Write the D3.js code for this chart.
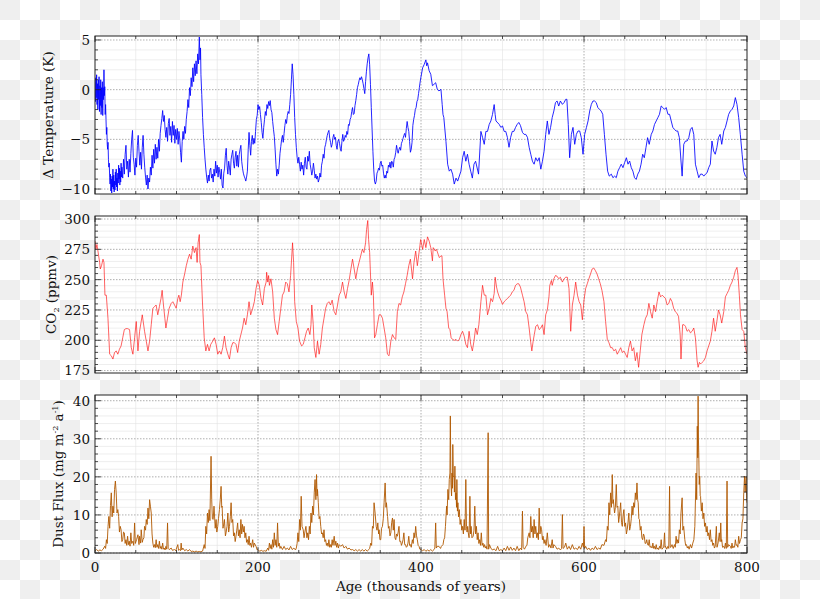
<!DOCTYPE html>
<html>
<head>
<meta charset="utf-8">
<script src="https://d3js.org/d3.v7.min.js"></script>
<style>
  body { margin: 0; }
  text { font-family: "DejaVu Serif", serif; fill: #111; }
</style>
</head>
<body>
<script>
// ---- data: [age (kyr), value] ----
var tempData = [
[0,0.8],[0.5,-1.2],[1,1.2],[1.5,-0.8],[2,1.5],[2.5,-1.5],[3,0.6],[3.5,-2.0],[4,1.0],[4.5,-1.0],[5,1.3],[5.5,-2.2],[6,0.4],[6.5,-1.6],[7,1.0],[7.5,-2.5],[8,0.2],[8.5,-1.8],[9,0.8],[9.5,-2.6],[10,0.2],[10.5,-1.0],[11,2.0],[11.5,-0.6],[12,0.3],[12.5,-2.5],[13,-1.5],[13.5,-3.0],[14,-4.5],[14.5,-3.8],[15,-5.5],[15.5,-6.0],[16,-5.3],[16.5,-7.0],[17,-7.8],[17.5,-7.4],[18,-8.8],
[18.5,-9.5],[19,-8.5],[19.5,-10.2],[20,-9.0],[20.5,-10.4],[21,-8.7],[21.5,-9.8],[22,-8.0],[22.5,-10.0],[23,-8.6],[23.5,-10.3],[24,-9.2],[24.5,-10.1],[25,-8.3],[25.5,-9.6],[26,-8.0],[26.5,-9.8],[27,-8.9],[27.5,-10.2],[28,-8.4],[28.5,-9.4],[29,-7.6],[29.5,-9.0],[30,-7.9],[30.5,-9.6],[31,-8.2],[31.5,-9.3],[32,-7.4],[32.5,-8.8],[33,-7.8],
[34,-8.9],[35,-7.0],[36,-8.5],[37,-6.5],[38,-5.6],[39,-8.0],[40,-7.2],[41,-8.8],[42,-7.0],[43,-8.3],[44,-6.4],[45,-5.0],[46,-4.1],[47,-6.8],[48,-7.5],[49,-8.6],[50,-6.9],[51,-7.8],[52,-5.6],[53,-4.6],[54,-6.2],[55,-7.6],[56,-6.3],[57,-8.0],[58,-5.8],[59,-4.6],[60,-6.5],[61,-7.8],[62,-8.8],[63,-9.6],[64,-8.6],[65,-10.0],[66,-8.9],[67,-9.3],
[68,-7.8],[69,-8.6],[70,-6.6],[71,-7.9],[72,-6.0],[73,-7.4],[74,-5.5],[75,-7.0],[76,-5.8],[77,-6.9],[78,-5.0],[79,-6.2],[80,-4.4],[81,-3.6],[82,-2.9],[83,-2.1],[84,-3.2],[85,-2.6],[86,-4.0],
[87,-4.8],[88,-3.8],[89,-5.2],[90,-3.4],[91,-2.9],[92,-4.6],[93,-3.7],[94,-5.3],[95,-3.2],[96,-4.6],[97,-3.6],[98,-5.4],[99,-4.0],[100,-5.0],[101,-3.9],[102,-5.5],[103,-4.2],[104,-5.0],[105,-6.3],[106,-7.3],[107,-5.2],[108,-4.2],[109,-5.0],[110,-3.7],[111,-4.4],[112,-3.0],
[113,-2.2],[114,-1.0],[115,-1.8],[116,0.2],[117,-0.6],[118,1.2],[119,0.3],[120,2.2],[121,0.8],[122,2.6],[123,1.4],[124,2.9],[125,1.6],[126,3.6],[127,2.6],[128,5.3],[128.8,3.0],[129.5,4.2],[130,1.5],[131,-0.5],[132,-2.8],[133,-4.5],[134,-5.8],[135,-7.0],[136,-8.0],
[137,-8.8],[138,-9.4],[139,-8.6],[140,-9.2],[141,-8.1],[142,-7.9],[143,-8.9],[144,-8.5],[145,-9.3],[146,-8.0],[147,-8.7],[148,-7.2],[149,-8.4],[150,-7.6],[151,-8.8],[152,-7.8],[153,-8.3],[154,-9.0],[155,-8.0],[156,-9.6],[157,-9.9],[158,-8.4],[159,-7.9],[160,-6.6],[161,-5.9],[162,-7.6],[163,-8.5],[164,-7.2],[165,-7.8],[166,-8.6],[167,-7.0],[168,-6.5],[169,-6.1],[170,-7.4],[171,-7.9],[172,-6.8],[173,-6.2],[174,-7.7],[175,-6.6],[176,-7.8],[177,-6.5],[178,-6.0],[179,-5.6],[180,-7.2],[181,-7.9],[182,-8.4],[183,-8.7],[184,-8.9],[185,-9.2],[186,-8.8],[187,-8.2],[188,-6.0],[189,-4.3],[190,-5.6],[191,-6.6],[192,-5.2],[193,-4.6],[194,-5.5],[195,-4.9],[196,-5.4],[197,-4.2],[198,-3.0],[199,-2.6],[200,-1.5],
[201,-2.0],[202,-1.7],[203,-2.5],[204,-3.3],[205,-4.3],[206,-4.9],[207,-3.8],[208,-3.0],[209,-2.2],[210,-2.6],[211,-1.5],[212,-1.9],[213,-1.2],[214,-1.6],[215,-1.1],[216,-2.0],[217,-2.3],[218,-3.2],[219,-4.0],[220,-4.7],[221,-6.0],[222,-7.5],[223,-8.7],[224,-8.0],[225,-8.5],[226,-7.6],[227,-6.4],[228,-5.7],[229,-5.0],[230,-4.6],[231,-5.3],[232,-4.4],[233,-3.6],[234,-3.0],[235,-3.4],[236,-2.6],[237,-2.2],[238,-2.4],[239,-1.5],[240,-0.5],[241,1.0],[242,2.6],[243,1.5],[244,-0.5],[245,-2.8],[246,-4.5],[247,-5.8],
[248,-6.8],[249,-7.4],[250,-6.8],[251,-7.5],[252,-8.2],[253,-7.3],[254,-8.0],[255,-7.6],[256,-8.6],[257,-7.4],[258,-6.8],[259,-7.8],[260,-8.0],[261,-6.7],[262,-7.2],[263,-6.2],[264,-7.5],[265,-8.0],[266,-8.6],[267,-8.2],[268,-7.4],[269,-8.1],[270,-8.9],[271,-8.5],[272,-9.0],[273,-8.7],[274,-9.3],[275,-9.0],[276,-8.4],[277,-8.8],[278,-7.6],[279,-7.2],[280,-6.5],[281,-6.9],[282,-5.8],[283,-5.5],[284,-5.0],[285,-4.6],[286,-4.3],[287,-4.1],[288,-4.9],[289,-5.3],[290,-5.8],[291,-5.5],[292,-4.8],[293,-4.5],[294,-5.0],[295,-4.8],[296,-5.6],[297,-6.0],[298,-5.2],[299,-5.0],[300,-5.4],
[301,-5.9],[302,-6.2],[303,-5.2],[304,-4.5],[305,-5.2],[306,-5.0],[307,-4.6],[308,-4.8],[309,-4.2],[310,-4.5],[311,-3.5],[312,-3.6],[313,-3.0],[314,-2.8],[315,-2.2],[316,-1.8],[317,-2.5],[318,-2.4],[319,-1.6],[320,-1.1],[321,-0.5],[322,0.2],[323,0.5],[324,0.9],[325,1.2],[326,1.0],[327,1.3],[328,1.0],[329,0.6],[330,0.1],[331,-0.4],[332,0.8],[333,1.8],[334,2.6],[335,3.2],[336,3.6],[337,2.5],[338,0.5],[339,-1.8],[340,-4.0],[341,-6.2],[342,-8.0],[343,-9.2],[344,-9.5],
[345,-9.2],[346,-8.4],[347,-8.2],[348,-7.9],[349,-8.1],[350,-7.4],[351,-7.2],[352,-7.7],[353,-7.6],[354,-8.4],[355,-8.9],[356,-8.6],[357,-8.9],[358,-8.2],[359,-8.4],[360,-7.6],[361,-7.8],[362,-7.3],[363,-7.9],[364,-7.2],[365,-7.3],[366,-7.8],[367,-7.0],[368,-6.8],[369,-6.3],[370,-5.6],[371,-6.1],[372,-6.4],[373,-6.0],[374,-5.8],[375,-6.1],[376,-5.4],[377,-5.2],[378,-4.9],[379,-4.6],[380,-4.4],[381,-4.8],[382,-3.9],[383,-3.2],[384,-3.8],[385,-4.2],[386,-5.2],[387,-6.3],[388,-6.0],[389,-5.3],[390,-3.6],[391,-3.0],[392,-2.6],[393,-2.0],[394,-1.8],[395,-1.2],[396,-1.0],[397,-0.4],[398,0.2],[399,0.8],[400,1.3],
[402,2.2],[404,2.55],[406,3.0],[407,2.4],[408,2.7],[410,1.9],[412,1.55],[414,0.4],[416,0.54],[418,0.7],[420,0.03],[422,-0.13],[424.5,0.03],[426,-1.5],[427,-2.5],[428,-2.8],[430.6,-5.2],[432.7,-7.5],[434.7,-8.2],[436.7,-8.0],[438.8,-8.5],[440.8,-9.5],[443,-8.9],[445,-9.2],[449,-8.2],[451,-6.85],[453,-6.2],[455,-7.2],[457,-6.5],[459,-7.5],[461,-8.2],[463,-8.9],[465,-7.5],[467,-7.2],[470.6,-8.5],[473.5,-4.2],[475.5,-4.8],[477.6,-5.5],[479.6,-4.2],[481.6,-4.2],[483.7,-3.5],[485.7,-3.15],[487.7,-2.5],[489.8,-1.5],[491,-2.5],[492,-3.15],[496,-3.5],[498,-3.8],[500,-3.65],[502,-4.2],[504,-4.2],[506,-4.8],[508,-5.8],[510,-4.8],[512,-4.2],[514,-4.2],[516,-3.8],[518,-3.5],[520,-3.3],[522,-3.6],[524.5,-4.3],[526.5,-4.5],[528.6,-4.5],[530.6,-4.8],[532.7,-5.8],[534.7,-6.5],[536.7,-7.2],[538.8,-7.5],[540.8,-6.85],[543,-7.2],[545,-6.85],[547,-8.0],[549,-7.2],[551,-6.2],[553,-4.5],[555,-3.15],[557,-4.5],[559,-3.8],[561,-2.8],[563,-2.15],[565,-1.3],[567,-1.14],[569,-1.65],[571,-1.14],[573.5,-1.48],[575.5,-1.3],[577.6,-0.97],[579,-0.97],[580.7,-3.5],[582.4,-6.85],[584.5,-4.5],[586.5,-3.8],[588.6,-5.5],[590.6,-4.5],[592.6,-4.16],[594.7,-4.16],[596.7,-4.83],[598.8,-6.5],[600.8,-4.5],[603,-3.8],[605,-3.15],[607,-2.15],[609,-1.48],[611,-1.14],[613,-1.14],[615,-1.3],[617,-1.8],[619,-1.98],[621,-2.15],[623,-2.48],[625,-4.5],[627,-6.5],[629,-8.2],[631,-8.7],[633.5,-8.5],[635.5,-8.86],[637.6,-8.7],[639.6,-8.86],[641.6,-8.2],[643.7,-7.85],[645.7,-7.5],[647.8,-7.85],[649.8,-7.35],[652,-6.85],[654,-7.5],[656,-7.18],[658,-7.85],[660,-8.2],[662,-8.86],[664,-9.03],[666,-8.5],[668,-8.2],[670,-7.5],[672,-6.5],[674,-6.85],[676,-5.84],[678,-4.83],[680,-5.5],[682.5,-4.5],[684.5,-4.16],[686.5,-3.5],[688.6,-3.15],[690.6,-2.82],[692.6,-2.48],[694.7,-1.64],[696.7,-1.8],[698.8,-1.98],[700.8,-1.8],[703,-2.48],[705,-2.48],[707,-3.15],[709,-3.8],[711,-4.0],[713,-4.16],[715,-4.16],[717,-4.83],[719,-7.18],[720.4,-8.7],[722.4,-5.5],[724.5,-5.17],[726.5,-5.17],[728.6,-4.83],[730.6,-4.0],[732.6,-3.8],[734.7,-4.5],[736.7,-7.5],[738.8,-8.2],[740.8,-8.86],[743,-8.5],[745,-8.5],[747,-8.7],[749,-8.5],[751,-8.36],[753,-7.85],[755,-7.5],[757,-5.17],[759,-6.17],[761,-6.5],[763,-5.84],[765,-4.83],[767,-4.5],[769,-5.5],[771.5,-4.16],[773.5,-3.8],[775.5,-3.15],[777.5,-2.48],[779.6,-2.15],[781.6,-1.98],[783.7,-1.64],[785.7,-0.8],[787.7,-1.48],[789.8,-2.82],[791.8,-4.5],[794,-6.5],[796,-8.2],[798,-8.7],[800,-8.86]
];

var co2Data = [
[0,281.8],[1,275],[2.4,279],[3.6,273.6],[5.7,264.2],[6.5,258.8],[8,261.5],[9.8,266.9],[11,264.2],[12.2,237.2],[13.9,237.2],[15.9,218.2],[18,188.5],[20,187.2],[22,184.5],[24,189.9],[26,191.2],[28,188.5],[30,192.6],[32,195.3],[34,202],[36,208.8],[38,209.6],[40,209.6],[42.4,208.8],[44.5,193.9],[46.5,188.5],[48.6,202],[50.6,215.5],[52.7,191.2],[54.7,207.4],[58,221],[60.8,207.4],[62.9,199.3],[65,191.2],[67,199.3],[69,212.8],[71,226.4],[73,227.7],[75,229.1],[77,221],[79,227.7],[81,234.5],[82.4,241.2],[84,229.1],[85.7,218.2],[87,210.1],[89,218.2],[91,226.4],[93.5,230.4],[95.5,231.8],[97.6,229.1],[99.6,226.4],[101.6,234.5],[102.9,237.2],[104.5,231.8],[106,237.2],[107.8,248],[110,254.7],[112,261.5],[114,266.9],[116,271],[118,266.9],[120,277.7],[122,272.3],[124,276.4],[125.3,264.2],[126.5,280.4],[128,287.2],[128.8,264.2],[130,261.5],[132,229.1],[134,202],[136,191.2],[138,196.6],[140,191.2],[142,196.6],[144.5,199.3],[146.5,202],[148.6,196.6],[150.6,188.5],[152.7,191.2],[154.7,188.5],[156.7,193.9],[158.8,203.4],[160.8,193.9],[163,188.5],[165,184.5],[167,193.9],[169,198],[171,198],[173,196.6],[175,189.9],[177,199.3],[179,204.7],[181,210.1],[183,218.2],[185,212.8],[187,221],[189,231.8],[191,221],[193.5,226.4],[195.5,231.8],[197.6,242.6],[199.6,249.3],[201.6,245.3],[203.7,234.5],[205.7,229.1],[207.8,242.6],[210,248],[210.6,256.1],[212,248],[213,253.4],[214,245.3],[215.9,250.7],[218,239.9],[220,218.2],[222,208.8],[224,204.7],[226,215.5],[228,226.4],[230,237.2],[232,239.9],[234,248],[236,246.6],[238,239.9],[240,253.4],[242.4,280.4],[243.7,264.2],[245,231.8],[247,215.5],[249,210.1],[251,199.3],[253.5,195.3],[255.5,196.6],[257.6,202],[259.6,207.4],[261.6,210.1],[263.7,204.7],[265,212.8],[266,229.1],[267.8,212.8],[269,193.9],[271,185.8],[273,199.3],[275,188.5],[277,196.6],[279,210.1],[281,218.2],[283,226.4],[285,230.4],[287,231.8],[289,229.1],[291,233.1],[293.5,223.6],[295.5,221],[297.6,229.1],[299.6,237.2],[301.6,239.9],[303.7,248],[305.7,239.9],[307.8,234.5],[309.8,242.6],[311.8,249.3],[314,258.8],[316,266.9],[318,258.8],[320,250.7],[322,258.8],[324,264.2],[326,269.6],[328,275],[330,272.3],[332,280.4],[333.2,291.2],[334.7,298.8],[335.7,283.1],[337,272.3],[339,237.2],[340.4,248],[341.6,237.2],[343,202],[344.5,204.7],[346.5,212.8],[348.6,221],[350.6,221],[352.7,218.2],[354.7,210.1],[356.7,202],[358.8,188.5],[360.8,187.2],[363,199.3],[365,204.7],[367,202],[369,200.7],[371,223.6],[373,230.4],[375,229.1],[377,235.8],[379,239.9],[381,246.6],[383,253.4],[385,261.5],[387,266.9],[389.6,250.7],[391.4,264.2],[393.5,273.6],[395.5,261.5],[397.6,272.3],[399.6,283.1],
[402,275],[404,283.1],[406,276.4],[408,285.3],[410,281.8],[412,276.4],[414,265.5],[415,276.4],[417.5,273.6],[419,275],[421,271],[422.5,268.2],[424.5,269.6],[425.7,269.6],[427,250.7],[429,237.2],[430.6,226.4],[432,223.6],[434,210.1],[435.5,208.8],[437,202],[438.8,200.7],[440.8,199.9],[443,200.7],[445,199.3],[447,200.7],[449,204.7],[451,207.4],[453,203.4],[455,196.6],[457,193.9],[459,207.4],[461,196.6],[463,191.2],[465,199.3],[467,210.1],[469,204.7],[471,212.8],[473.5,231.8],[475.5,245.3],[477.6,237.2],[479.6,237.2],[481.6,221],[483.7,226.4],[485.7,234.5],[487.8,231.8],[489.8,238.5],[491,252],[492.7,243.9],[494,239.9],[496,235.8],[498,233.1],[500,229.6],[502,231.8],[504,233.1],[506,234.5],[508,235.8],[510,237.2],[512,239.9],[514,241.2],[516,245.3],[518,246.6],[520,246.6],[522,243.9],[524.5,237.2],[526.5,231.8],[528.6,223.6],[530.6,221],[532.7,210.1],[534.7,198],[536,191.2],[537.6,199.3],[539,204.7],[540.8,211.5],[543,212.8],[545,208.8],[547,210.1],[549,212.8],[551,204.7],[553,221],[555,225],[557,235.8],[558,245.3],[560,249.3],[561,245.3],[563,250.7],[565,253.4],[567,252.8],[569,250.7],[571,252],[573.5,248],[575.5,250.7],[577.6,252],[579.6,252],[581.6,242.6],[583.7,207.4],[585.7,229.1],[587.8,237.2],[589.8,248],[592,237.2],[594,231.8],[596,229.1],[598,216.9],[600,233.1],[602,242.6],[604,246.6],[606,250.7],[608,254.7],[610,258.8],[612,259.6],[614,257.4],[616,254.7],[618,250.7],[620,246.6],[622,241.2],[624.5,231.8],[626.5,215.5],[628.6,200.7],[630.6,198],[632.7,193.9],[634.7,193.9],[636.7,191.2],[638.8,192.6],[640.8,188.5],[643,191.2],[645,193.9],[647,189.9],[649,191.2],[651,188.5],[653,185.8],[655,193.9],[657,199.3],[659,191.2],[661,193.9],[663,183.1],[665,189.9],[667,177.7],[669,191.2],[671,204.7],[673.5,212.8],[675.5,218.2],[677.6,221],[679.6,230.4],[681.6,223.6],[683.7,218.2],[685.7,229.1],[687.8,223.6],[689.8,231.8],[692,239.9],[694,235.8],[696,237.2],[698,235.8],[700,234.5],[702,229.1],[704,230.4],[706,234.5],[708,231.8],[710,226.4],[712,223.6],[714,222.3],[716,219.6],[718,204.7],[719,184.5],[721,212.8],[722.8,212.8],[724.5,211.5],[726.5,207.4],[728.6,208.8],[730.6,206.1],[732.6,207.4],[734.7,210.1],[736.7,202],[738.8,183.1],[740,177.7],[741.6,181.8],[743,180.4],[745,181.8],[747,183.1],[749,185.8],[751,191.2],[753,195.3],[755,199.3],[757,207.4],[759,218.2],[761,207.4],[763,215.5],[765,225],[767,221],[769,214.2],[771.5,223.6],[773.5,235.8],[775.5,238.5],[777.5,241.2],[779.6,245.3],[781.6,248],[783.7,252],[785.7,257.4],[787.7,260.1],[789,253.4],[790.6,237.2],[792,221],[794,208.8],[796,207.4],[798,193.9],[800,188.5]
];

var dustData = [
[0,0.6],[2,0.9],[4,0.5],[6,0.8],[8,0.6],[10,1.0],[12,1.8],[13,1.2],[14,3.5],[15,2.5],[16,7.0],[17,9.6],[18,6.5],[19,12.5],[20,15.8],[21,9.5],[22,12.3],[23,10.5],[24,16.7],[25,18.9],[26,15.8],[27,10.5],[28,11.4],[29,9.6],[30,5.5],[31,7.0],[32,6.1],[33,3.0],[34,3.5],[35,5.5],[36,5.3],[37,2.5],[38,3.5],[39,2.0],[40,4.4],[41,2.2],[42,3.1],[43,1.8],[44,5.3],[45,2.5],[46.5,3.1],[47.5,2.0],[48.6,7.9],[49.5,2.5],[51,3.5],[52.7,4.8],[54,2.2],[54.7,4.4],[56,2.6],[56.7,6.1],[58,2.8],[58.8,3.5],[60,4.0],[60.8,7.0],[62,6.0],[62.9,8.8],[64,7.5],[65,11.8],[66,9.0],[67,14.0],[68,12.3],[69,10.5],[70,5.0],[71,2.6],[72,1.5],[73,2.2],[74,1.4],[75,3.5],[76,1.5],[77,2.2],[78,1.2],[79,3.1],[80,1.2],[81,1.75],[82,1.0],[83,2.6],[84,1.0],[85,1.3],[86,0.8],[87,1.75],[88,1.0],[89,7.9],[89.8,1.2],[91,0.9],[93.5,1.3],[95,0.7],[97.6,0.9],[99,0.6],[101.6,2.2],[102.5,0.7],[103.7,0.9],[105,0.6],[105.7,2.6],[106.5,0.8],[107.8,1.3],[110,0.6],[112,0.9],[114,0.5],[116,0.9],[118,0.4],[120,0.5],[122,0.3],[124,0.5],[126,0.3],[128,0.4],[130,0.3],[132,0.5],[134,2.2],[135,1.2],[136,7.0],[137,5.0],[138,10.5],[139,8.0],[140,11.4],[141,8.5],[142.4,25.4],[143.2,14.0],[144,9.0],[145,8.8],[146,12.3],[146.5,10.5],[147.5,6.5],[148.6,8.8],[149.5,5.5],[150.6,7.0],[151.5,9.0],[152.7,11.4],[153.7,14.0],[154.7,17.5],[155.5,12.0],[156,12.3],[157,6.5],[157.6,7.0],[158.8,8.8],[160,4.5],[160.8,5.3],[162,7.0],[163,10.5],[164,5.5],[165,7.0],[166,9.5],[167,13.2],[168,8.0],[169,8.8],[170,4.5],[171,5.3],[172,3.0],[173,4.4],[174,6.0],[175,7.9],[176,4.5],[177,6.1],[178,4.0],[179,8.8],[180,5.0],[181,7.5],[182,5.5],[183,7.0],[184,4.0],[185,5.3],[186,2.8],[187,3.5],[188,2.2],[189,4.4],[190,2.0],[191,2.6],[192,1.5],[193.5,3.5],[194.5,1.5],[195.5,2.6],[197.6,1.75],[199,0.8],[200,0.9],[202,0.45],[204,0.7],[206,0.45],[208,0.6],[210,0.45],[212,1.3],[213,0.7],[214,2.6],[215,1.2],[216,2.2],[217,1.0],[218,3.5],[219,1.5],[220,5.3],[221,2.0],[222,3.5],[223,1.5],[224,7.9],[225,1.8],[226,2.6],[227,1.2],[228,1.75],[230,0.9],[232,1.75],[234,0.9],[236,1.3],[238,0.8],[240,1.75],[242,0.9],[244,1.3],[246,0.8],[247,1.3],[248,2.5],[249,5.3],[250,3.0],[251,8.8],[252,6.0],[253,14.9],[254,7.0],[255.5,6.1],[256.5,4.0],[257.5,5.5],[258.8,7.0],[260,4.0],[261,5.3],[262,3.5],[263,7.0],[264,5.0],[265,10.5],[266,8.0],[267,12.3],[268,10.0],[269,15.8],[270,19.3],[271,14.0],[271.8,20.6],[272.5,15.0],[273,16.7],[274,13.2],[275,9.0],[276,9.6],[277,7.0],[278,5.0],[279,5.3],[280,4.0],[281,6.1],[282,3.0],[283,3.5],[284,2.0],[285,2.6],[286,1.75],[287,3.5],[288,1.5],[289,2.2],[290,1.5],[291,3.5],[292,2.0],[293.5,4.4],[294.5,2.0],[295.5,3.1],[296.5,1.5],[297.6,2.6],[298.6,1.3],[299.6,2.2],[301.6,1.75],[303.7,2.2],[305.7,1.3],[307.8,1.75],[309.8,1.0],[311.8,1.3],[314,0.8],[316,0.9],[318,0.6],[320,0.9],[322,0.5],[324,0.9],[326,0.5],[328,0.9],[330,0.5],[332,0.9],[334,0.5],[336,0.9],[337,1.2],[338.4,2.6],[339.4,2.0],[340.4,7.0],[341.5,6.5],[342.4,13.2],[343.7,10.5],[345,7.0],[346,6.0],[347,7.9],[348,5.0],[348.6,6.1],[349.6,3.5],[350.6,3.5],[351.6,6.5],[352.7,7.0],[353.7,9.0],[354.7,13.2],[356,18.4],[357,12.0],[357.6,13.2],[359,9.6],[360,6.5],[360.8,7.0],[362,4.5],[363,5.3],[364,8.0],[365,9.2],[366,6.0],[367,8.8],[368,4.0],[369,3.5],[370,5.0],[371,4.4],[372,5.5],[373,7.0],[374,3.0],[375,3.1],[376,2.0],[377,2.6],[378,3.5],[379,5.3],[380,2.2],[381,2.2],[382,1.5],[383,1.75],[384,2.6],[385,4.4],[386,2.0],[387,2.2],[388,1.5],[389.4,3.5],[390.4,2.5],[391.4,5.3],[392.4,4.0],[393.5,7.0],[394.5,4.5],[395.5,3.5],[396.5,2.0],[397.6,1.75],[398.6,1.0],[399.6,0.9],
[402,0.6],[404,0.9],[406,0.45],[408,0.8],[410,0.5],[412,0.9],[414,0.5],[416,0.9],[417,1.3],[418,7.9],[418.8,1.3],[420,1.75],[422,1.75],[424,1.2],[425,1.75],[427,2.2],[428,3.5],[429,4.0],[430,7.0],[431.4,12.3],[432,10.0],[433,16.7],[434,14.0],[434.7,19.3],[435.5,21.0],[436,36],[436.7,18.4],[437.5,15.0],[438,21],[438.6,17.0],[439,28.5],[439.7,20.0],[440.4,20.2],[441,16.0],[441.6,22.8],[442.3,14.0],[443,15.8],[443.6,12.0],[444,19.3],[444.7,11.0],[445.3,13.2],[446,9.5],[447,11.4],[448,7.5],[449,8.8],[450,6.0],[451,7.0],[452,5.0],[453,8.8],[454,6.0],[455,19.3],[455.8,7.0],[456.5,5.5],[457.3,7.0],[458,5.3],[459,4.0],[460,14.9],[460.8,5.0],[461.5,7.0],[462.5,4.0],[464,4.4],[465,6.0],[466,12.3],[467,5.0],[468,7.0],[469,3.5],[470,5.3],[471,2.5],[472,3.5],[473,2.0],[474,5.3],[475,2.0],[476,2.6],[477,1.5],[478,2.2],[479,1.3],[480,1.75],[481,1.0],[482.4,31.6],[483,1.0],[484,2.2],[485.7,1.3],[487.5,0.8],[489.8,1.05],[492,0.6],[494,1.75],[496,0.6],[498,0.9],[500,0.6],[502,1.3],[504,0.6],[506,1.75],[508,0.7],[510,1.6],[512,0.7],[514,1.3],[516,0.6],[518,1.75],[520,0.6],[522,1.3],[523.5,0.8],[524.5,11.0],[525.3,1.5],[527,1.0],[528.6,1.75],[530,2.0],[531,4.0],[532.7,5.3],[533.7,4.0],[534.7,9.6],[535.7,5.5],[536.7,7.0],[537.7,4.0],[538.8,8.8],[539.8,5.0],[540.8,7.0],[542,4.0],[543,5.3],[544,3.5],[545,11.8],[546,5.0],[547,7.0],[548,6.1],[549,3.5],[549.8,4.4],[551,2.5],[552,3.5],[553.5,2.0],[555,5.3],[556.5,1.5],[558,2.2],[559.5,1.3],[561,3.5],[562,1.3],[563,2.2],[565,1.75],[567,1.0],[569,1.3],[571,0.8],[572.5,1.2],[573.5,10.1],[574.3,1.2],[576,1.5],[577.6,2.6],[579.5,1.0],[581.6,1.75],[583.5,0.9],[585.7,2.2],[587.8,1.0],[589.8,1.3],[592,0.9],[594,1.75],[596,1.0],[598,2.6],[599.3,1.5],[600,7.0],[600.8,1.2],[602,1.75],[604,0.9],[606,1.3],[608,0.7],[610,1.3],[612,0.9],[614,1.75],[616,0.9],[618,1.3],[620,1.0],[622,2.2],[624.5,2.0],[626.5,3.5],[627.5,3.0],[628.6,7.0],[629.6,6.0],[630.6,13.2],[631.6,10.0],[632.7,15.8],[633.7,12.0],[634.7,20.6],[635.5,13.0],[636,14.0],[637.5,10.5],[638.5,12.0],[639.6,18.0],[640.5,12.0],[641.5,12.3],[642.5,8.0],[643,8.8],[644,11.0],[645,13.2],[646,8.0],[647,7.0],[648,10.0],[649,11.4],[650,7.0],[651,7.9],[652,5.0],[653,6.1],[654,8.0],[655,10.5],[656,6.0],[657,7.0],[658,9.0],[659,12.3],[660,10.0],[661,13.2],[662,12.0],[663,15.8],[664,14.0],[665,18.4],[665.8,14.0],[666.5,13.2],[667.3,9.0],[668,8.8],[669,6.0],[670,7.0],[671,4.0],[672,3.5],[673,5.0],[674,4.4],[675,2.5],[676,2.6],[677,3.5],[678,2.2],[679,2.0],[680,3.5],[681,1.5],[682.4,1.75],[683.5,1.3],[684.5,2.6],[685.5,1.2],[686.5,1.75],[687.5,1.0],[688.6,2.2],[689.6,1.0],[690.6,1.3],[691.6,0.9],[692.6,1.75],[693.7,1.2],[694.7,3.5],[695.7,1.0],[696.7,1.3],[697.8,1.5],[698.8,5.3],[699.5,1.5],[700,1.75],[701.5,1.0],[702.9,1.75],[704,1.2],[705,17.5],[705.8,1.5],[706.5,1.5],[708,2.2],[709.5,1.2],[711,2.2],[712,1.5],[713,4.4],[714,2.5],[715,3.5],[716,2.6],[717,6.1],[718,5.0],[719,10.5],[720.4,14.5],[721.3,6.0],[722.3,7.0],[723.7,3.5],[724.7,2.0],[725.7,2.2],[726.8,1.3],[727.8,1.75],[729,1.0],[730.6,2.2],[732,1.3],[733.5,2.6],[734.8,3.5],[736,7.0],[737.5,21],[738.3,14.0],[739,33.3],[739.6,25],[740,41.2],[740.4,30],[740.8,26.3],[741.4,18.0],[742,20.2],[742.6,15.0],[743,14.9],[744,11.0],[745,13.2],[746,9.0],[747,10.5],[748,7.0],[749,7.9],[750,5.5],[751,7.0],[752,4.5],[753,5.3],[754,3.5],[755,6.1],[756,3.0],[757,3.5],[758,2.0],[759,2.6],[760,1.3],[761,1.75],[762.4,7.0],[763.2,1.5],[764.5,2.6],[766,5.3],[767,3.0],[767.8,7.9],[768.5,3.0],[769,3.5],[770,1.5],[771.4,1.75],[772.5,1.2],[773.5,2.6],[774.6,1.2],[775.5,18.9],[776.3,1.5],[777.5,2.2],[779.6,1.75],[780.6,1.2],[781.6,2.6],[782.6,1.3],[783.7,1.75],[784.7,1.5],[785.7,3.5],[786.7,2.0],[787.8,2.2],[788.8,1.5],[789.8,4.4],[790.8,2.5],[792,3.5],[793,4.0],[794,7.9],[795,9.0],[796,15.8],[797,20.2],[797.7,16],[798.4,18.4],[799,20.0],[799.5,15],[800,13.2]
];

var ageTicks = [0, 200, 400, 600, 800];
var tempTicks = [-10, -5, 0, 5];
var co2Ticks = [175, 200, 225, 250, 275, 300];
var dustTicks = [0, 10, 20, 30, 40];

// ---- drawing ----
var W = 820, H = 599;
var svg = d3.select("body").append("svg").attr("width", W).attr("height", H);
var defs = svg.append("defs");

// transparent-background checkerboard
var pat = defs.append("pattern").attr("id", "checker")
    .attr("width", 40).attr("height", 40).attr("patternUnits", "userSpaceOnUse");
pat.append("rect").attr("width", 40).attr("height", 40).attr("fill", "#ffffff");
pat.append("rect").attr("width", 20).attr("height", 20).attr("fill", "#efefef");
pat.append("rect").attr("x", 20).attr("y", 20).attr("width", 20).attr("height", 20).attr("fill", "#efefef");
svg.append("rect").attr("width", W).attr("height", H).attr("fill", "url(#checker)");

var x = d3.scaleLinear().domain([0, 800]).range([95, 747]);
var xMinor = d3.range(0, 801, 50);

var panels = [
  { id: "t", data: tempData, top: 36, bottom: 194, domain: [-10.5, 5.4], ticks: tempTicks, minor: 1,
    color: "#0000ff", width: 0.85, titleX: 53 },
  { id: "c", data: co2Data, top: 216, bottom: 373, domain: [173, 302.5], ticks: co2Ticks, minor: 5,
    color: "#ff1010", width: 0.65, titleX: 56 },
  { id: "d", data: dustData, top: 395, bottom: 553, domain: [0, 41.5], ticks: dustTicks, minor: 2,
    color: "#b05800", width: 0.9, titleX: 63 }
];

function fmt(v) { return v < 0 ? "\u2212" + Math.abs(v) : String(v); }

panels.forEach(function (p) {
  var y = d3.scaleLinear().domain(p.domain).range([p.bottom, p.top]);
  var g = svg.append("g");
  var x0 = x(0), x1 = x(800);

  g.append("rect").attr("x", x0).attr("y", p.top)
      .attr("width", x1 - x0).attr("height", p.bottom - p.top).attr("fill", "#fff");

  var lo = p.ticks[0], hi = p.ticks[p.ticks.length - 1];
  var yMinor = d3.range(lo, hi + p.minor / 2, p.minor).filter(function (v) { return p.ticks.indexOf(v) < 0; });

  // minor grid
  g.selectAll(".hmin").data(yMinor).enter().append("line")
      .attr("x1", x0).attr("x2", x1).attr("y1", y).attr("y2", y)
      .attr("stroke", "#e3e3e3").attr("stroke-width", 0.6);
  g.selectAll(".vmin").data(xMinor.filter(function (v) { return v % 200 !== 0; })).enter().append("line")
      .attr("x1", x).attr("x2", x).attr("y1", p.top).attr("y2", p.bottom)
      .attr("stroke", "#e3e3e3").attr("stroke-width", 0.6);
  // major grid
  g.selectAll(".hmaj").data(p.ticks).enter().append("line")
      .attr("x1", x0).attr("x2", x1).attr("y1", y).attr("y2", y)
      .attr("stroke", "#9a9a9a").attr("stroke-width", 0.8).attr("stroke-dasharray", "1.5,1.5");
  g.selectAll(".vmaj").data([200, 400, 600]).enter().append("line")
      .attr("x1", x).attr("x2", x).attr("y1", p.top).attr("y2", p.bottom)
      .attr("stroke", "#9a9a9a").attr("stroke-width", 0.8).attr("stroke-dasharray", "1.5,1.5");

  // the series
  defs.append("clipPath").attr("id", "clip-" + p.id).append("rect")
      .attr("x", x0).attr("y", p.top).attr("width", x1 - x0).attr("height", p.bottom - p.top);
  var line = d3.line().x(function (d) { return x(d[0]); }).y(function (d) { return y(d[1]); });
  g.append("path").datum(p.data)
      .attr("clip-path", "url(#clip-" + p.id + ")")
      .attr("d", line).attr("fill", "none")
      .attr("stroke", p.color).attr("stroke-width", p.width).attr("stroke-linejoin", "round");

  // frame
  g.append("rect").attr("x", x0).attr("y", p.top)
      .attr("width", x1 - x0).attr("height", p.bottom - p.top)
      .attr("fill", "none").attr("stroke", "#222").attr("stroke-width", 1);

  // inward ticks on all four sides
  function yTick(vals, len) {
    g.selectAll(null).data(vals).enter().append("line")
        .attr("x1", x0).attr("x2", x0 + len).attr("y1", y).attr("y2", y)
        .attr("stroke", "#222").attr("stroke-width", 0.8);
    g.selectAll(null).data(vals).enter().append("line")
        .attr("x1", x1).attr("x2", x1 - len).attr("y1", y).attr("y2", y)
        .attr("stroke", "#222").attr("stroke-width", 0.8);
  }
  function xTick(vals, len) {
    g.selectAll(null).data(vals).enter().append("line")
        .attr("x1", x).attr("x2", x).attr("y1", p.bottom).attr("y2", p.bottom - len)
        .attr("stroke", "#222").attr("stroke-width", 0.8);
    g.selectAll(null).data(vals).enter().append("line")
        .attr("x1", x).attr("x2", x).attr("y1", p.top).attr("y2", p.top + len)
        .attr("stroke", "#222").attr("stroke-width", 0.8);
  }
  yTick(p.ticks, 6);
  yTick(yMinor, 3);
  xTick(ageTicks, 6);
  xTick(xMinor.filter(function (v) { return v % 200 !== 0; }), 3);

  g.selectAll(".ylab").data(p.ticks).enter().append("text")
      .attr("x", x0 - 5).attr("y", y).attr("dy", "0.36em")
      .attr("text-anchor", "end").style("font-size", "13.5px")
      .text(fmt);

  p.y = y;
});

// axis titles
function yTitle(p) {
  return svg.append("text")
      .attr("transform", "translate(" + p.titleX + "," + ((p.top + p.bottom) / 2) + ") rotate(-90)")
      .attr("text-anchor", "middle").style("font-size", "13.5px");
}
yTitle(panels[0]).text("\u0394 Temperature (K)");

var tc = yTitle(panels[1]);
tc.append("tspan").text("CO");
tc.append("tspan").text("2").style("font-size", "8px").attr("dy", 3);
tc.append("tspan").text(" (ppmv)").attr("dy", -3);

var td = yTitle(panels[2]);
td.append("tspan").text("Dust Flux (mg m");
td.append("tspan").text("-2").style("font-size", "8px").attr("dy", -5);
td.append("tspan").text(" a").attr("dy", 5);
td.append("tspan").text("-1").style("font-size", "8px").attr("dy", -5);
td.append("tspan").text(")").attr("dy", 5);

// shared age axis labels under the bottom panel
svg.selectAll(".xlab").data(ageTicks).enter().append("text")
    .attr("x", x).attr("y", 572).attr("text-anchor", "middle")
    .style("font-size", "13.5px").text(function (d) { return d; });

svg.append("text").attr("x", x(400)).attr("y", 591)
    .attr("text-anchor", "middle").style("font-size", "13.5px")
    .text("Age (thousands of years)");
</script>
</body>
</html>
